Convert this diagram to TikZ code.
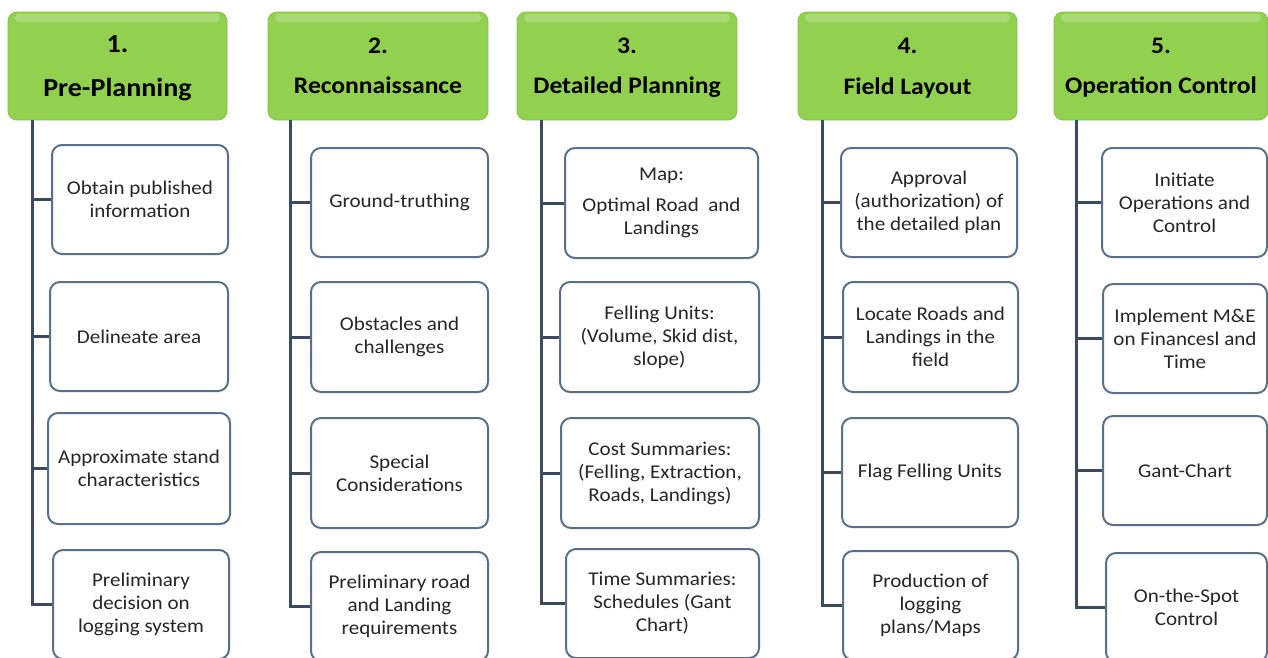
\documentclass[tikz,border=0pt]{standalone}
\usepackage{fontspec}
\setmainfont{Carlito}[FakeStretch=1.08]
\usetikzlibrary{calc}
\definecolor{hdrgreen}{RGB}{146,208,80}
\definecolor{hdrgreenlight}{RGB}{170,220,118}
\definecolor{hdrborder}{RGB}{132,194,70}
\definecolor{conncol}{RGB}{59,74,94}
\definecolor{boxline}{RGB}{88,112,140}
\definecolor{txt}{RGB}{38,38,38}
\begin{document}
\begin{tikzpicture}[x=1pt,y=-1pt,
  hdr/.style={rounded corners=9pt, fill=hdrgreen, draw=hdrborder, line width=0.8pt,
    minimum height=108pt, inner sep=0pt,
    path picture={\fill[hdrgreenlight,rounded corners=4pt]
      ($(path picture bounding box.north west)+(7,2)$) rectangle
      ($(path picture bounding box.north east)+(-7,10)$);}},
  hdrtxt/.style={anchor=base, inner sep=0pt, text=black,
    font=\fontsize{23.7}{27}\selectfont\bfseries},
  hdrbig/.style={hdrtxt, font=\fontsize{26}{29}\selectfont\bfseries},
  box/.style={rounded corners=10pt, draw=boxline, line width=2pt, fill=white,
    align=center, inner sep=2pt, text=txt, minimum height=109pt,
    font=\fontsize{19.5}{23}\selectfont},
  conn/.style={draw=conncol, line width=3pt}]
\useasboundingbox (0,0) rectangle (1268,657);
\fill[white] (0,0) rectangle (1268,657);

% headers
\node[hdr, minimum width=219pt] (h1) at (117.5,66) {};
\node[hdr, minimum width=220pt] (h2) at (378,66) {};
\node[hdr, minimum width=220pt] (h3) at (627,66) {};
\node[hdr, minimum width=219pt] (h4) at (907.5,66) {};
\node[hdr, minimum width=214pt] (h5) at (1161,66) {};

\node[hdrbig] (n1) at ($(h1.north)+(0,41)$) {1.};
\node[hdrbig] (k1) at ($(h1.north)+(0,85)$) {Pre-Planning};
\node[hdrtxt] (n2) at ($(h2.north)+(0,42)$) {2.};
\node[hdrtxt] (k2) at ($(h2.north)+(0,82)$) {Reconnaissance};
\node[hdrtxt] (n3) at ($(h3.north)+(0,42)$) {3.};
\node[hdrtxt] (k3) at ($(h3.north)+(0,82)$) {Detailed Planning};
\node[hdrtxt] (n4) at ($(h4.north)+(0,42)$) {4.};
\node[hdrtxt] (k4) at ($(h4.north)+(0,83)$) {Field Layout};
\node[hdrtxt] (n5) at ($(h5.north)+(0,42)$) {5.};
\node[hdrtxt] (k5) at ($(h5.north)+(0,82)$) {Operation Control};

% column 1
\node[box, minimum width=176pt] (b11) at (140,199.5) {Obtain published\\information};
\node[box, minimum width=178pt] (b12) at (139,336.5) {Delineate area};
\node[box, minimum width=182pt, minimum height=111pt] (b13) at (139,468.5) {Approximate stand\\characteristics};
\node[box, minimum width=176pt] (b14) at (141,604.5) {Preliminary\\decision on\\logging system};

% column 2
\node[box, minimum width=177pt] (b21) at (399.5,202.5) {Ground-truthing};
\node[box, minimum width=177pt, minimum height=110pt] (b22) at (399.5,337) {Obstacles and\\challenges};
\node[box, minimum width=177pt, minimum height=110pt] (b23) at (399.5,473) {Special\\Considerations};
\node[box, minimum width=177pt] (b24) at (399.5,606.5) {Preliminary road\\and Landing\\requirements};

% column 3
\node[box, minimum width=193pt, minimum height=110pt] (b31) at (661.5,203) {Map:\\[8pt]Optimal Road\ \ and\\Landings};
\node[box, minimum width=199pt, minimum height=110pt] (b32) at (659.5,337) {Felling Units:\\(Volume, Skid dist,\\slope)};
\node[box, minimum width=198pt, minimum height=110pt] (b33) at (660,473) {Cost Summaries:\\(Felling, Extraction,\\Roads, Landings)};
\node[box, minimum width=193pt] (b34) at (662.5,603.5) {Time Summaries:\\Schedules (Gant\\Chart)};

% column 4
\node[box, minimum width=176pt] (b41) at (929,202.5) {Approval\\(authorization) of\\the detailed plan};
\node[box, minimum width=175pt, minimum height=110pt] (b42) at (930.5,337) {Locate Roads and\\Landings in the\\field};
\node[box, minimum width=176pt] (b43) at (930,472.5) {Flag Felling Units};
\node[box, minimum width=175pt] (b44) at (930.5,605.5) {Production of\\logging\\plans/Maps};

% column 5
\node[box, minimum width=165pt] (b51) at (1184.5,202.5) {Initiate\\Operations and\\Control};
\node[box, minimum width=164pt] (b52) at (1185,338.5) {Implement M\&E\\on Financesl and\\Time};
\node[box, minimum width=164pt] (b53) at (1185,470.5) {Gant-Chart};
\node[box, minimum width=161pt] (b54) at (1186.5,607.5) {On-the-Spot\\Control};

% trunk coordinates
\coordinate (t1) at (32,0);
\coordinate (t2) at (290,0);
\coordinate (t3) at (541,0);
\coordinate (t4) at (822,0);
\coordinate (t5) at (1076,0);

% connectors
\foreach \c in {1,...,5}{
  \draw[conn] (h\c.south -| t\c) -- (b\c4.west -| t\c) -- (b\c4.west);
  \foreach \r in {1,2,3}{
    \draw[conn] (b\c\r.west -| t\c) -- (b\c\r.west);
  }
}
\end{tikzpicture}
\end{document}
